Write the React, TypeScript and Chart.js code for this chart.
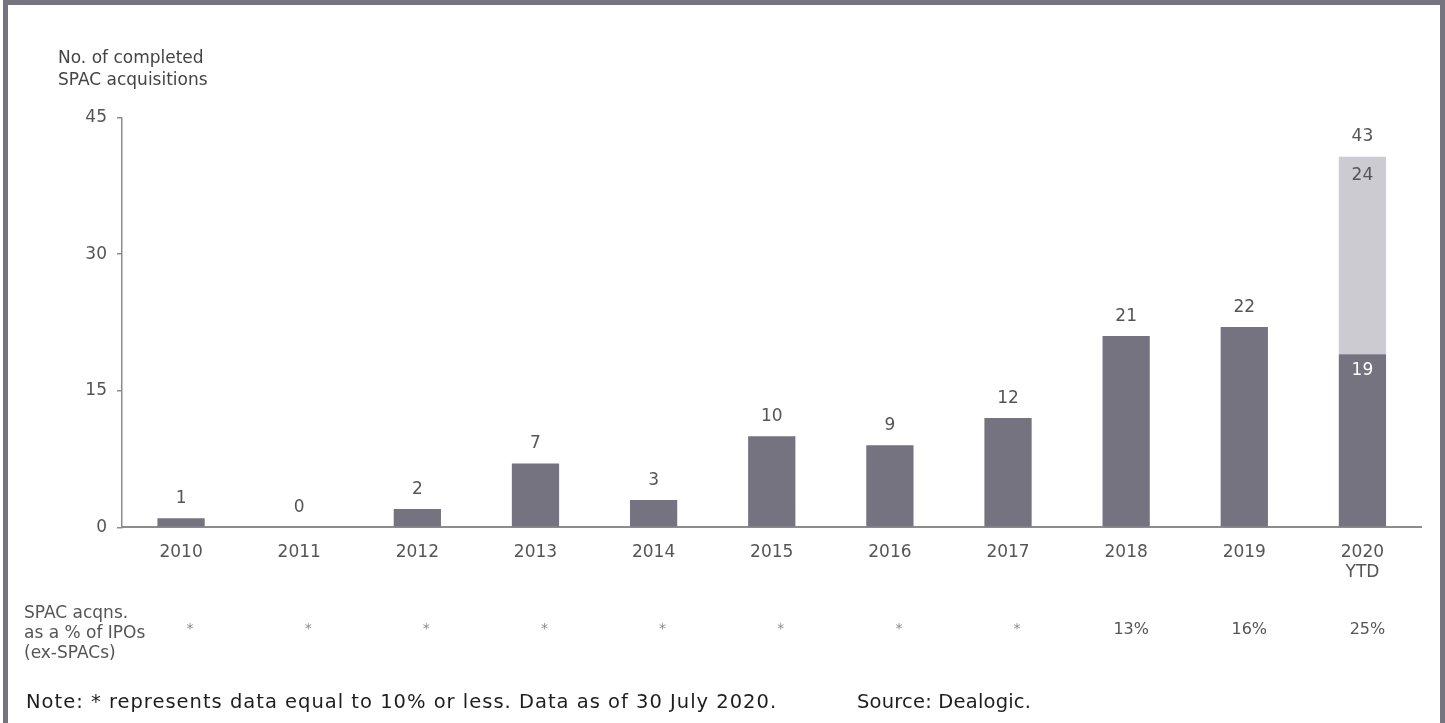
import React, { useEffect, useRef } from "react";
import { Chart, registerables } from "chart.js";

Chart.register(...registerables);

// ---- data ----
const years: (string | string[])[] = ["2010", "2011", "2012", "2013", "2014", "2015", "2016", "2017", "2018", "2019", ["2020", "YTD"]];
const completed = [1, 0, 2, 7, 3, 10, 9, 12, 21, 22, 19];
// light segment height as drawn in the reference (labelled 24)
const announced = [0, 0, 0, 0, 0, 0, 0, 0, 0, 0, 21.7];
const announcedLabels = ["", "", "", "", "", "", "", "", "", "", "24"];
const totalLabels = ["", "", "", "", "", "", "", "", "", "", "43"];
const shareOfIpos = ["*", "*", "*", "*", "*", "*", "*", "*", "13%", "16%", "25%"];
const yTicks = [0, 15, 30, 45];

const FONT = "'DejaVu Sans', sans-serif";
const DARK = "#74737f";
const LIGHT = "#cbcbd1";
const AXIS = "#8c8c8c";
const TXT = "#555555";

const labelPlugin = {
  id: "valueLabels",
  afterDatasetsDraw(chart: any) {
    const ctx = chart.ctx;
    const m0 = chart.getDatasetMeta(0);
    const m1 = chart.getDatasetMeta(1);
    const x = chart.scales.x;
    ctx.save();
    ctx.textAlign = "center";
    ctx.textBaseline = "middle";
    ctx.font = `17px ${FONT}`;
    completed.forEach((v, i) => {
      const bar = m0.data[i];
      if (totalLabels[i]) {
        const top = m1.data[i];
        ctx.fillStyle = "#ffffff";
        ctx.fillText(String(v), bar.x, bar.y + 16);
        ctx.fillStyle = TXT;
        ctx.fillText(announcedLabels[i], top.x, top.y + 18.5);
        ctx.fillText(totalLabels[i], top.x, top.y - 20);
      } else {
        ctx.fillStyle = TXT;
        ctx.fillText(String(v), bar.x, bar.y - 19.5);
      }
    });
    // share row
    shareOfIpos.forEach((s, i) => {
      const cx = x.getPixelForValue(i);
      if (s === "*") {
        ctx.fillStyle = "#8a8a8a";
        ctx.font = `14px ${FONT}`;
        ctx.fillText(s, cx + 9, 629);
      } else {
        ctx.fillStyle = TXT;
        ctx.font = `16px ${FONT}`;
        ctx.fillText(s, cx + 5, 629.5);
      }
    });
    ctx.restore();
  },
};

export default function App() {
  const ref = useRef<HTMLCanvasElement | null>(null);

  useEffect(() => {
    if (!ref.current) return;
    const chart = new Chart(ref.current, {
      type: "bar",
      data: {
        labels: years as any,
        datasets: [
          { data: completed, backgroundColor: DARK, borderWidth: 0 },
          { data: announced, backgroundColor: LIGHT, borderWidth: 0 },
        ],
      },
      options: {
        animation: false,
        responsive: false,
        maintainAspectRatio: false,
        layout: { padding: { left: 0, top: 117.5, right: 23.5, bottom: 0 } },
        datasets: { bar: { barPercentage: 0.4, categoryPercentage: 1 } } as any,
        plugins: { legend: { display: false }, tooltip: { enabled: false }, title: { display: false } },
        scales: {
          x: {
            stacked: true,
            grid: { display: false, drawTicks: false },
            border: { display: true, color: AXIS, width: 2 },
            ticks: { color: TXT, font: { family: FONT, size: 17 }, padding: 15, maxRotation: 0, autoSkip: false },
            afterFit: (s: any) => { s.height = 723 - 527.3; },
          },
          y: {
            stacked: true,
            min: 0,
            max: 45,
            afterBuildTicks: (s: any) => { s.ticks = yTicks.map((v) => ({ value: v })); },
            ticks: { color: TXT, font: { family: FONT, size: 17 }, padding: 10 },
            grid: { display: true, drawOnChartArea: false, drawTicks: true, tickLength: 5, color: AXIS, lineWidth: 1.5 },
            border: { display: true, color: AXIS, width: 1.5 },
            afterFit: (s: any) => { s.width = 122; },
          },
        },
      },
      plugins: [labelPlugin],
    });
    return () => chart.destroy();
  }, []);

  const abs = (o: React.CSSProperties): React.CSSProperties => ({ position: "absolute", fontFamily: FONT, whiteSpace: "nowrap", ...o });

  return (
    <div style={{ position: "absolute", left: 0, top: 0, width: 1445, height: 723, background: "#ffffff", overflow: "hidden" }}>
      <div style={{ position: "absolute", left: 3, top: 0, width: 1442, height: 740, boxSizing: "border-box", borderLeft: "5px solid #75747f", borderTop: "5px solid #75747f", borderRight: "5px solid #75747f" }} />
      <canvas ref={ref} width={1445} height={723} style={{ position: "absolute", left: 0, top: 0, width: 1445, height: 723 }} />
      <div style={abs({ left: 58, top: 47, fontSize: 17, lineHeight: "21.5px", color: "#444" })}>
        No. of completed<br />SPAC acquisitions
      </div>
      <div style={abs({ left: 24, top: 602, fontSize: 17, lineHeight: "20px", color: TXT })}>
        SPAC acqns.<br />as a % of IPOs<br />(ex-SPACs)
      </div>
      <div style={abs({ left: 26, top: 691, fontSize: 19.5, letterSpacing: "1px", lineHeight: "22px", color: "#1e1e1e" })}>
        Note: * represents data equal to 10% or less. Data as of 30 July 2020.
      </div>
      <div style={abs({ left: 857, top: 691, fontSize: 19.5, letterSpacing: "0.2px", lineHeight: "22px", color: "#1e1e1e" })}>
        Source: Dealogic.
      </div>
    </div>
  );
}
